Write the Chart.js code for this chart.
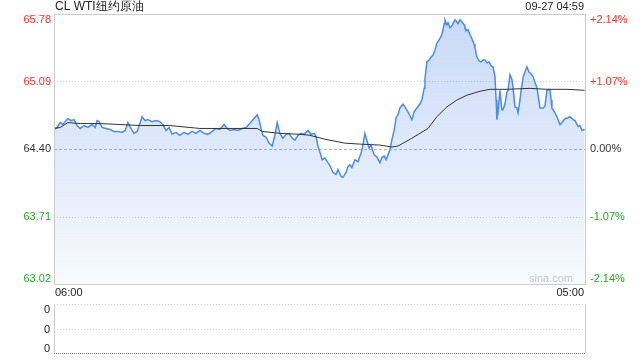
<!DOCTYPE html>
<html>
<head>
<meta charset="utf-8">
<script src="https://cdn.jsdelivr.net/npm/chart.js@4.4.0/dist/chart.umd.min.js"></script>
<style>
	html, body { margin: 0; padding: 0; background: #fff; }
	#wrap { position: relative; width: 640px; height: 360px; }
	canvas { position: absolute; left: 0; }
	#price-chart { top: 0; }
	#volume-chart { top: 300px; }
</style>
</head>
<body>
<div id="wrap">
	<canvas id="price-chart" width="640" height="300"></canvas>
	<canvas id="volume-chart" width="640" height="60"></canvas>
</div>
<script>
const TITLE = 'CL WTI纽约原油';
const STAMP = '09-27 04:59';
const PREV_CLOSE = 64.40;
const PRICE_TICKS = [65.78, 65.09, 64.40, 63.71, 63.02];
const PCT_TICKS = ['+2.14%', '+1.07%', '0.00%', '-1.07%', '-2.14%'];
const TIME_TICKS = [0, 1380]; // minutes after 06:00
const TIME_LABELS = ['06:00', '05:00'];
const VOL_TICKS = ['0', '0', '0'];

// minutes after 06:00
const times = [
	0, 8, 16, 23, 31, 36, 44, 52, 60, 68,
	78, 88, 99, 107, 112, 117, 125, 135, 146, 156,
	166, 177, 185, 192, 200, 208, 216, 224, 229, 237,
	244, 255, 265, 275, 283, 291, 299, 307, 317, 327,
	338, 348, 359, 369, 379, 390, 400, 411, 421, 431,
	442, 450, 457, 468, 478, 489, 499, 509, 517, 528,
	533, 538, 543, 551, 559, 567, 574, 580, 587, 595,
	603, 611, 619, 626, 634, 642, 650, 660, 668, 676,
	681, 686, 691, 697, 704, 710, 717, 725, 733, 738,
	746, 751, 759, 764, 769, 774, 782, 790, 798, 803,
	808, 813, 819, 824, 832, 839, 847, 852, 858, 863,
	868, 873, 878, 884, 889, 894, 899, 907, 912, 920,
	925, 930, 936, 943, 951, 956, 962, 964, 969, 975,
	980, 985, 990, 995, 1003, 1008, 1014, 1016, 1021, 1024,
	1029, 1034, 1042, 1047, 1050, 1055, 1060, 1066, 1068, 1073,
	1076, 1081, 1086, 1092, 1094, 1099, 1105, 1110, 1115, 1120,
	1125, 1131, 1136, 1141, 1146, 1149, 1151, 1154, 1159, 1164,
	1167, 1172, 1177, 1180, 1185, 1190, 1193, 1198, 1203, 1206,
	1211, 1214, 1219, 1224, 1229, 1234, 1237, 1245, 1250, 1255,
	1260, 1263, 1271, 1276, 1281, 1286, 1289, 1292, 1294, 1302,
	1307, 1315, 1320, 1328, 1336, 1341, 1349, 1354, 1362, 1367,
	1372, 1379,
];
const prices = [
	64.60, 64.62, 64.67, 64.65, 64.69, 64.71, 64.69, 64.70, 64.64, 64.61,
	64.64, 64.62, 64.65, 64.62, 64.69, 64.68, 64.62, 64.61, 64.60, 64.58,
	64.58, 64.57, 64.59, 64.67, 64.61, 64.56, 64.58, 64.67, 64.73, 64.69,
	64.70, 64.68, 64.69, 64.68, 64.65, 64.59, 64.62, 64.55, 64.57, 64.54,
	64.57, 64.55, 64.58, 64.56, 64.59, 64.56, 64.55, 64.58, 64.61, 64.60,
	64.65, 64.61, 64.59, 64.60, 64.59, 64.61, 64.62, 64.66, 64.70, 64.75,
	64.70, 64.61, 64.54, 64.52, 64.46, 64.43, 64.54, 64.67, 64.56, 64.51,
	64.55, 64.56, 64.51, 64.49, 64.54, 64.56, 64.55, 64.59, 64.55, 64.56,
	64.53, 64.43, 64.37, 64.29, 64.31, 64.27, 64.23, 64.16, 64.14, 64.19,
	64.12, 64.11, 64.16, 64.22, 64.24, 64.21, 64.29, 64.27, 64.36, 64.44,
	64.56, 64.49, 64.41, 64.44, 64.34, 64.32, 64.26, 64.31, 64.33, 64.29,
	64.34, 64.39, 64.49, 64.59, 64.72, 64.75, 64.82, 64.86, 64.83, 64.78,
	64.74, 64.70, 64.78, 64.82, 64.86, 64.90, 65.02, 65.11, 65.29, 65.31,
	65.34, 65.36, 65.41, 65.48, 65.53, 65.57, 65.68, 65.72, 65.67, 65.69,
	65.64, 65.66, 65.72, 65.70, 65.68, 65.72, 65.70, 65.67, 65.64, 65.61,
	65.62, 65.57, 65.53, 65.47, 65.44, 65.34, 65.30, 65.29, 65.31, 65.31,
	65.28, 65.29, 65.25, 65.24, 65.14, 64.90, 64.70, 64.78, 65.00, 64.80,
	64.80, 64.86, 64.98, 65.00, 65.16, 65.11, 65.03, 64.83, 64.82, 64.77,
	64.90, 65.00, 65.13, 65.19, 65.24, 65.19, 65.18, 65.14, 65.08, 65.03,
	64.90, 64.82, 64.82, 64.84, 65.00, 65.01, 65.00, 64.90, 64.82, 64.77,
	64.73, 64.65, 64.67, 64.71, 64.72, 64.73, 64.70, 64.69, 64.63, 64.64,
	64.59, 64.60,
];

// average price line
const avgTimes = [
	0, 16, 36, 68, 120, 224, 301, 379, 465, 528,
	541, 587, 639, 665, 704, 756, 795, 847, 878, 894,
	912, 930, 951, 972, 995, 1021, 1047, 1073, 1107, 1133,
	1177, 1237, 1281, 1333, 1379,
];
const avgPrices = [
	64.61, 64.62, 64.67, 64.66, 64.66, 64.64, 64.64, 64.61, 64.61, 64.61,
	64.58, 64.56, 64.55, 64.54, 64.50, 64.46, 64.45, 64.44, 64.42, 64.43,
	64.47, 64.51, 64.56, 64.61, 64.73, 64.83, 64.90, 64.95, 64.99, 65.01,
	65.01, 65.02, 65.01, 65.01, 65.00,
];

const volTimes = [0, 1379];
const volumes = [0, 0];

const COLORS = {
	up: '#f0362c',
	down: '#25a825',
	flat: '#333333',
	line: '#4d8be8',
	avg: '#333333',
	grid: '#cfcfcf',
	border: '#cccccc',
	text: '#222222',
	mark: '#c8c8c8',
};
const FONT = '"Liberation Sans", Arial, sans-serif';

function tickColor(v) {
	if (v > PREV_CLOSE) return COLORS.up;
	if (v < PREV_CLOSE) return COLORS.down;
	return COLORS.flat;
}

function hline(ctx, x0, x1, y, color, dash) {
	ctx.save();
	ctx.strokeStyle = color;
	ctx.lineWidth = 1;
	ctx.setLineDash(dash || []);
	ctx.beginPath();
	ctx.moveTo(x0, y);
	ctx.lineTo(x1, y);
	ctx.stroke();
	ctx.restore();
}

const priceFrame = {
	id: 'priceFrame',
	beforeDatasetsDraw(chart) {
		const { ctx, chartArea: a, scales: { y } } = chart;
		PRICE_TICKS.slice(1, -1).forEach((v) => {
			const py = Math.round(y.getPixelForValue(v)) + 0.5;
			if (v === PREV_CLOSE) hline(ctx, a.left, a.right, py, '#b4b4b4', [3, 2]);
			else hline(ctx, a.left, a.right, py, COLORS.grid, [1, 2]);
		});
	},
	afterDraw(chart) {
		const { ctx, chartArea: a, scales: { x, y } } = chart;
		ctx.save();
		ctx.strokeStyle = COLORS.border;
		ctx.lineWidth = 1;
		ctx.strokeRect(a.left + 0.5, a.top + 0.5, a.right - a.left, a.bottom - a.top);

		ctx.textBaseline = 'middle';
		ctx.font = '11px ' + FONT;
		PRICE_TICKS.forEach((v, i) => {
			let py = y.getPixelForValue(v);
			py = Math.min(Math.max(py, a.top + 6), a.bottom - 5);
			ctx.fillStyle = tickColor(v);
			ctx.textAlign = 'right';
			ctx.fillText(v.toFixed(2), a.left - 3, py);
			ctx.textAlign = 'left';
			ctx.fillText(PCT_TICKS[i], a.right + 5, py);
		});

		ctx.fillStyle = COLORS.text;
		TIME_TICKS.forEach((t, i) => {
			const px = x.getPixelForValue(t);
			ctx.textAlign = i === 0 ? 'left' : 'right';
			ctx.fillText(TIME_LABELS[i], px + (i === 0 ? 1 : -1), a.bottom + 9);
		});

		ctx.textAlign = 'right';
		ctx.fillText(STAMP, a.right - 1, 7);

		ctx.fillStyle = COLORS.mark;
		ctx.fillText('sina.com', a.right - 12, a.bottom - 5);

		ctx.font = '12px ' + FONT;
		ctx.fillStyle = COLORS.text;
		ctx.textAlign = 'left';
		ctx.fillText(TITLE, a.left + 1, 7);
		ctx.restore();
	},
};

const volumeFrame = {
	id: 'volumeFrame',
	afterDraw(chart) {
		const { ctx, chartArea: a } = chart;
		const mid = Math.round((a.top + a.bottom) / 2) + 0.5;
		hline(ctx, a.left, a.right, a.top + 0.5, COLORS.grid, [1, 2]);
		hline(ctx, a.left, a.right, mid, COLORS.grid, [1, 2]);
		hline(ctx, a.left, a.right + 1, a.bottom + 0.5, '#777777', [1, 1]);
		ctx.save();
		ctx.strokeStyle = COLORS.border;
		ctx.beginPath();
		ctx.moveTo(a.left + 0.5, a.top);
		ctx.lineTo(a.left + 0.5, a.bottom);
		ctx.moveTo(a.right + 0.5, a.top);
		ctx.lineTo(a.right + 0.5, a.bottom);
		ctx.stroke();

		ctx.font = '11px ' + FONT;
		ctx.fillStyle = COLORS.text;
		ctx.textAlign = 'right';
		ctx.textBaseline = 'middle';
		const ys = [a.top + 6, mid, a.bottom - 4];
		VOL_TICKS.forEach((t, i) => ctx.fillText(t, a.left - 4, ys[i]));
		ctx.restore();
	},
};

const price_ctx = document.getElementById('price-chart').getContext('2d');
const volume_ctx = document.getElementById('volume-chart').getContext('2d');

const config_price = {
	type: 'line',
	data: {
		datasets: [
			{
				label: 'avg',
				data: avgTimes.map((t, i) => ({ x: t, y: avgPrices[i] })),
				borderColor: COLORS.avg,
				borderWidth: 1,
				pointRadius: 0,
				fill: false,
				order: 0,
			},
			{
				label: 'price',
				data: times.map((t, i) => ({ x: t, y: prices[i] })),
				borderColor: COLORS.line,
				borderWidth: 1.5,
				pointRadius: 0,
				fill: 'start',
				order: 1,
				backgroundColor: (c) => {
					const area = c.chart.chartArea;
					if (!area) return 'rgba(77,139,232,0.15)';
					const g = c.chart.ctx.createLinearGradient(0, area.top, 0, area.bottom);
					g.addColorStop(0, 'rgba(70,130,230,0.30)');
					g.addColorStop(1, 'rgba(70,130,230,0.04)');
					return g;
				},
			},
		],
	},
	options: {
		responsive: false,
		animation: false,
		devicePixelRatio: 1,
		layout: { padding: { left: 54, right: 55, top: 14, bottom: 16 } },
		scales: {
			x: { type: 'linear', min: TIME_TICKS[0], max: TIME_TICKS[1], display: false },
			y: { type: 'linear', min: PRICE_TICKS[4], max: PRICE_TICKS[0], display: false },
		},
		plugins: { legend: { display: false }, tooltip: { enabled: false } },
	},
	plugins: [priceFrame],
};

const config_volume = {
	type: 'bar',
	data: {
		datasets: [
			{
				label: 'volume',
				data: volTimes.map((t, i) => ({ x: t, y: volumes[i] })),
				backgroundColor: COLORS.line,
			},
		],
	},
	options: {
		responsive: false,
		animation: false,
		devicePixelRatio: 1,
		layout: { padding: { left: 54, right: 55, top: 4, bottom: 7 } },
		scales: {
			x: { type: 'linear', min: TIME_TICKS[0], max: TIME_TICKS[1], display: false },
			y: { min: 0, max: 1, display: false },
		},
		plugins: { legend: { display: false }, tooltip: { enabled: false } },
	},
	plugins: [volumeFrame],
};

new Chart(price_ctx, config_price);
new Chart(volume_ctx, config_volume);
</script>
</body>
</html>
